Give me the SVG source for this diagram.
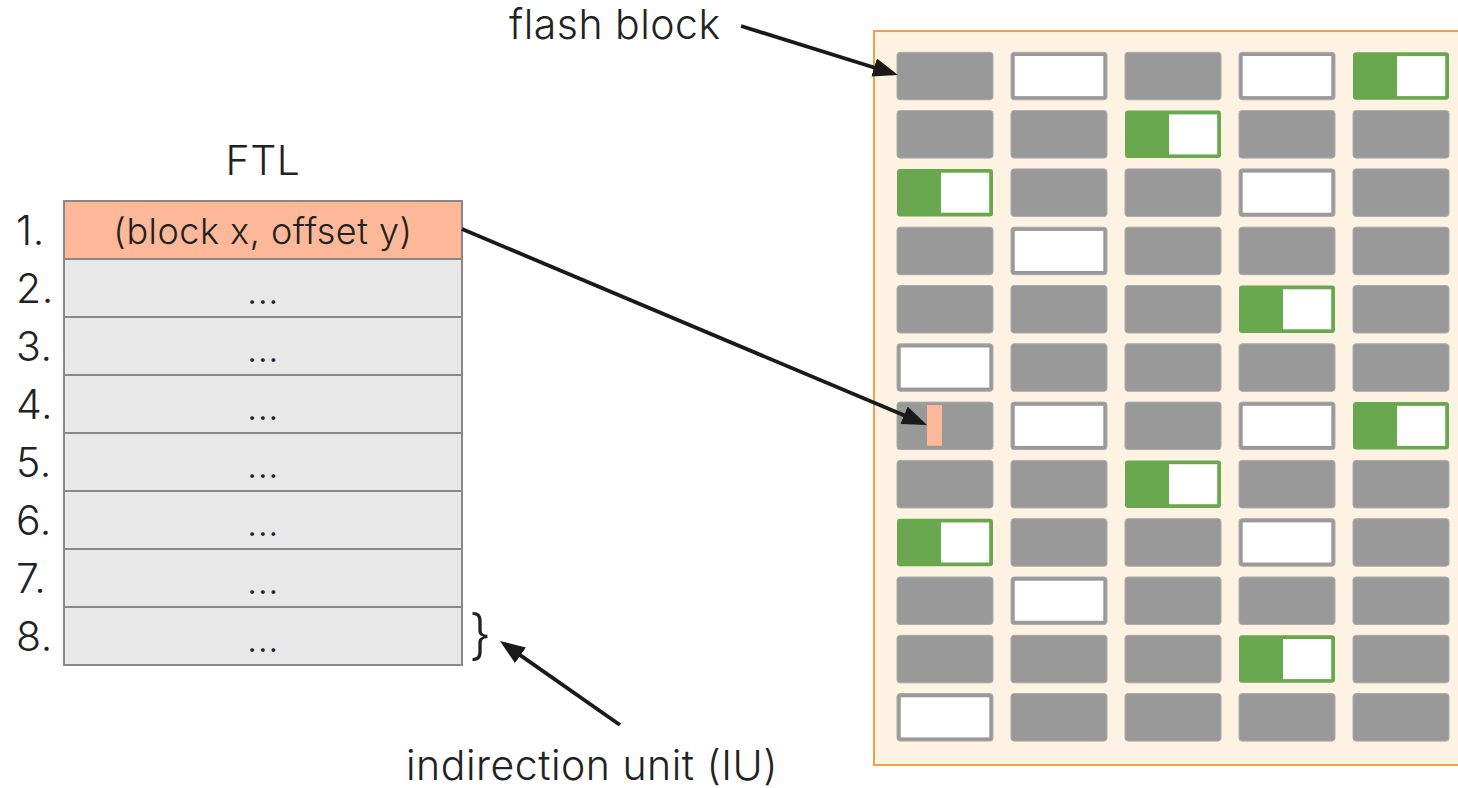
<svg xmlns="http://www.w3.org/2000/svg" xmlns:xlink="http://www.w3.org/1999/xlink" width="1458" height="788" viewBox="0 0 1458 788">
  <style>
    .txt { font-family: Inter, "Noto Sans", "DejaVu Sans", sans-serif; fill: #222222; font-weight: 300; letter-spacing: 0.5px; }
    .big { font-size: 41px; }
    .cell-txt { font-size: 36px; text-anchor: middle; }
    .ftl-row { fill: #e8e8e8; stroke: #888888; stroke-width: 2; }
    .ftl-hit { fill: #fcb898; stroke: #888888; stroke-width: 2; }
    .conn { stroke: #1a1a1a; stroke-width: 3.8; fill: none; marker-end: url(#head); }
  </style>
  <defs>
    <marker id="head" markerUnits="userSpaceOnUse" markerWidth="27" markerHeight="21" refX="20" refY="9.5" orient="auto">
      <path d="M0,0 L25,9.5 L0,19 Z" fill="#1a1a1a"/>
    </marker>
    <!-- erase block states -->
    <g id="blk-used">
      <rect width="96" height="47.5" rx="3" fill="#999999" stroke="#ababab" stroke-width="1"/>
    </g>
    <g id="blk-free">
      <rect width="96" height="47.5" rx="3" fill="#999999" stroke="#ababab" stroke-width="1"/>
      <rect x="3.7" y="3.7" width="88.6" height="40.1" fill="#ffffff"/>
    </g>
    <g id="blk-part">
      <rect width="96" height="47.5" rx="3" fill="#6aa84f"/>
      <rect x="44" y="3.8" width="48.2" height="40" fill="#ffffff"/>
    </g>
  </defs>

  <rect width="1458" height="788" fill="#ffffff"/>

  <!-- FTL mapping table -->
  <g id="ftl">
    <text class="txt big" x="263" y="175" text-anchor="middle">FTL</text>
    <rect class="ftl-hit" x="64" y="201" width="398" height="58"/>
    <rect class="ftl-row" x="64" y="259" width="398" height="58"/>
    <rect class="ftl-row" x="64" y="317" width="398" height="58"/>
    <rect class="ftl-row" x="64" y="375" width="398" height="58"/>
    <rect class="ftl-row" x="64" y="433" width="398" height="58"/>
    <rect class="ftl-row" x="64" y="491" width="398" height="58"/>
    <rect class="ftl-row" x="64" y="549" width="398" height="58"/>
    <rect class="ftl-row" x="64" y="607" width="398" height="58"/>
    <text class="txt cell-txt" x="263" y="244">(block x, offset y)</text>
    <text class="txt cell-txt" x="263" y="304">...</text>
    <text class="txt cell-txt" x="263" y="362">...</text>
    <text class="txt cell-txt" x="263" y="420">...</text>
    <text class="txt cell-txt" x="263" y="478">...</text>
    <text class="txt cell-txt" x="263" y="536">...</text>
    <text class="txt cell-txt" x="263" y="594">...</text>
    <text class="txt cell-txt" x="263" y="652">...</text>
    <text class="txt big" x="16" y="245">1.</text>
    <text class="txt big" x="16" y="303">2.</text>
    <text class="txt big" x="16" y="361">3.</text>
    <text class="txt big" x="16" y="419">4.</text>
    <text class="txt big" x="16" y="477">5.</text>
    <text class="txt big" x="16" y="535">6.</text>
    <text class="txt big" x="16" y="593">7.</text>
    <text class="txt big" x="16" y="651">8.</text>
  </g>

  <!-- indirection unit brace and label -->
  <g id="iu">
    <text class="txt" x="469" y="654" font-size="54">}</text>
    <text class="txt big" x="406" y="780">indirection unit (IU)</text>
  </g>

  <g id="flash-label">
    <text class="txt big" x="509" y="39">flash block</text>
  </g>

  <!-- flash die: 12 x 5 erase blocks -->
  <g id="flash">
    <rect x="874" y="31" width="600" height="734" fill="#fef2e2" stroke="#f0a048" stroke-width="2"/>
    <g transform="translate(897,52.3)">
      <use href="#blk-used" x="0" y="0"/>
      <use href="#blk-free" x="114" y="0"/>
      <use href="#blk-used" x="228" y="0"/>
      <use href="#blk-free" x="342" y="0"/>
      <use href="#blk-part" x="456" y="0"/>

      <use href="#blk-used" x="0" y="58.3"/>
      <use href="#blk-used" x="114" y="58.3"/>
      <use href="#blk-part" x="228" y="58.3"/>
      <use href="#blk-used" x="342" y="58.3"/>
      <use href="#blk-used" x="456" y="58.3"/>

      <use href="#blk-part" x="0" y="116.6"/>
      <use href="#blk-used" x="114" y="116.6"/>
      <use href="#blk-used" x="228" y="116.6"/>
      <use href="#blk-free" x="342" y="116.6"/>
      <use href="#blk-used" x="456" y="116.6"/>

      <use href="#blk-used" x="0" y="174.9"/>
      <use href="#blk-free" x="114" y="174.9"/>
      <use href="#blk-used" x="228" y="174.9"/>
      <use href="#blk-used" x="342" y="174.9"/>
      <use href="#blk-used" x="456" y="174.9"/>

      <use href="#blk-used" x="0" y="233.2"/>
      <use href="#blk-used" x="114" y="233.2"/>
      <use href="#blk-used" x="228" y="233.2"/>
      <use href="#blk-part" x="342" y="233.2"/>
      <use href="#blk-used" x="456" y="233.2"/>

      <use href="#blk-free" x="0" y="291.5"/>
      <use href="#blk-used" x="114" y="291.5"/>
      <use href="#blk-used" x="228" y="291.5"/>
      <use href="#blk-used" x="342" y="291.5"/>
      <use href="#blk-used" x="456" y="291.5"/>

      <use href="#blk-used" x="0" y="349.8"/>
      <use href="#blk-free" x="114" y="349.8"/>
      <use href="#blk-used" x="228" y="349.8"/>
      <use href="#blk-free" x="342" y="349.8"/>
      <use href="#blk-part" x="456" y="349.8"/>

      <use href="#blk-used" x="0" y="408.1"/>
      <use href="#blk-used" x="114" y="408.1"/>
      <use href="#blk-part" x="228" y="408.1"/>
      <use href="#blk-used" x="342" y="408.1"/>
      <use href="#blk-used" x="456" y="408.1"/>

      <use href="#blk-part" x="0" y="466.4"/>
      <use href="#blk-used" x="114" y="466.4"/>
      <use href="#blk-used" x="228" y="466.4"/>
      <use href="#blk-free" x="342" y="466.4"/>
      <use href="#blk-used" x="456" y="466.4"/>

      <use href="#blk-used" x="0" y="524.7"/>
      <use href="#blk-free" x="114" y="524.7"/>
      <use href="#blk-used" x="228" y="524.7"/>
      <use href="#blk-used" x="342" y="524.7"/>
      <use href="#blk-used" x="456" y="524.7"/>

      <use href="#blk-used" x="0" y="583"/>
      <use href="#blk-used" x="114" y="583"/>
      <use href="#blk-used" x="228" y="583"/>
      <use href="#blk-part" x="342" y="583"/>
      <use href="#blk-used" x="456" y="583"/>

      <use href="#blk-free" x="0" y="641.3"/>
      <use href="#blk-used" x="114" y="641.3"/>
      <use href="#blk-used" x="228" y="641.3"/>
      <use href="#blk-used" x="342" y="641.3"/>
      <use href="#blk-used" x="456" y="641.3"/>
    </g>
    <!-- the IU addressed by entry 1 -->
    <rect id="target-iu" x="927" y="405" width="15" height="40.7" fill="#fcb898"/>
  </g>

  <g id="connectors">
    <line class="conn" x1="741" y1="26" x2="893.2" y2="73.5"/>
    <line class="conn" x1="462" y1="229" x2="922.4" y2="423.1"/>
    <line class="conn" x1="620" y1="725" x2="504.1" y2="643.9"/>
  </g>
</svg>
